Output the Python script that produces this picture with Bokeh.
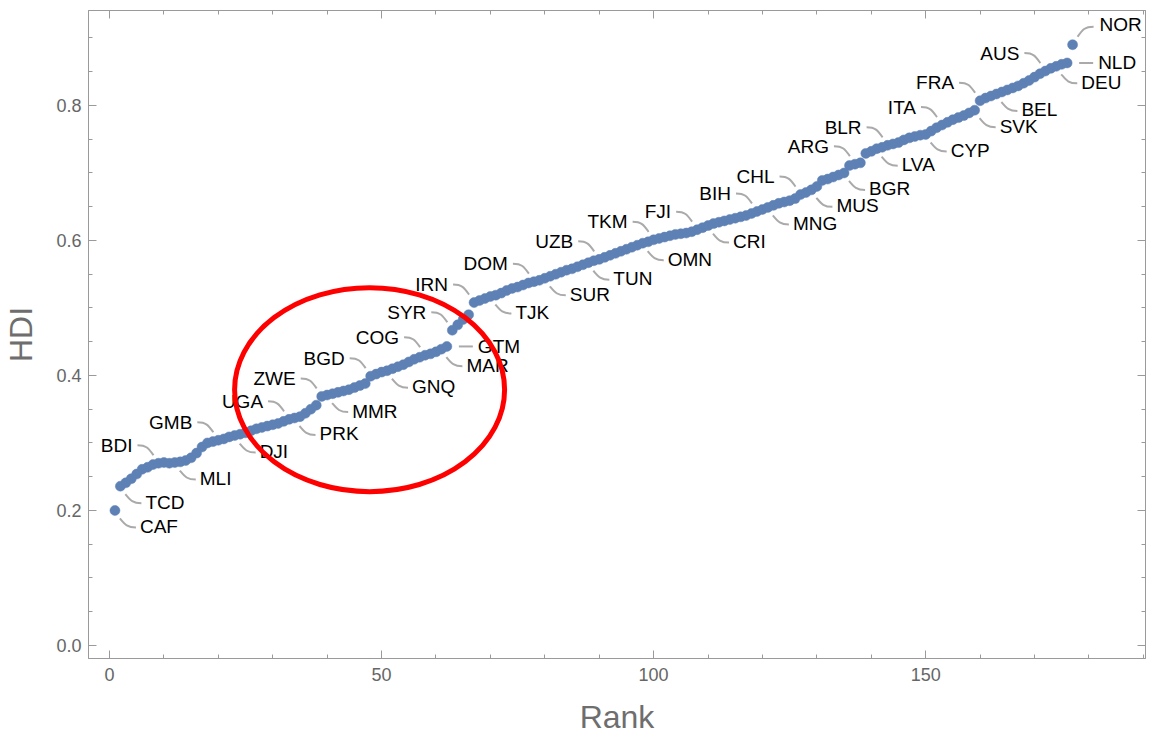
from bokeh.plotting import figure
from bokeh.models import (ColumnDataSource, LinearAxis, Range1d, FixedTicker,
                          PrintfTickFormatter, CustomJSTickFormatter)
from bokeh.core.properties import value
from bokeh.embed import file_html
from bokeh.resources import INLINE

# ---------------- data ----------------
hdi = [
    0.200, 0.236, 0.241, 0.247, 0.254, 0.261, 0.264, 0.268, 0.270, 0.271,
    0.270, 0.271, 0.272, 0.274, 0.278, 0.285, 0.294, 0.300, 0.302, 0.304,
    0.306, 0.309, 0.311, 0.313, 0.315, 0.318, 0.321, 0.323, 0.325, 0.327,
    0.329, 0.332, 0.335, 0.337, 0.339, 0.344, 0.350, 0.356, 0.369, 0.371,
    0.373, 0.375, 0.377, 0.379, 0.382, 0.385, 0.388, 0.399, 0.402, 0.405,
    0.407, 0.410, 0.413, 0.416, 0.420, 0.424, 0.427, 0.430, 0.432, 0.435,
    0.439, 0.443, 0.467, 0.475, 0.483, 0.490, 0.508, 0.511, 0.514, 0.517,
    0.519, 0.522, 0.526, 0.529, 0.531, 0.534, 0.537, 0.539, 0.541, 0.544,
    0.547, 0.550, 0.553, 0.556, 0.558, 0.561, 0.564, 0.567, 0.570, 0.572,
    0.575, 0.578, 0.581, 0.584, 0.587, 0.590, 0.593, 0.596, 0.598, 0.601,
    0.603, 0.605, 0.607, 0.609, 0.610, 0.611, 0.613, 0.616, 0.619, 0.622,
    0.625, 0.627, 0.629, 0.631, 0.633, 0.635, 0.637, 0.640, 0.643, 0.646,
    0.649, 0.652, 0.655, 0.657, 0.659, 0.662, 0.668, 0.671, 0.675, 0.680,
    0.689, 0.691, 0.694, 0.697, 0.700, 0.711, 0.713, 0.715, 0.729, 0.732,
    0.736, 0.738, 0.741, 0.743, 0.745, 0.749, 0.752, 0.754, 0.756, 0.757,
    0.762, 0.767, 0.771, 0.775, 0.779, 0.782, 0.785, 0.789, 0.793, 0.807,
    0.811, 0.814, 0.817, 0.820, 0.823, 0.826, 0.829, 0.833, 0.837, 0.842,
    0.847, 0.851, 0.855, 0.858, 0.861, 0.863, 0.890,
]
ranks = list(range(1, len(hdi) + 1))

label_names = ["CAF", "TCD", "BDI", "MLI", "GMB", "DJI", "UGA", "PRK", "ZWE", "MMR",
               "BGD", "GNQ", "COG", "MAR", "GTM", "SYR", "IRN", "TJK", "DOM", "SUR",
               "TUN", "UZB", "OMN", "TKM", "FJI", "CRI", "BIH", "MNG", "CHL", "MUS",
               "BGR", "ARG", "LVA", "BLR", "CYP", "ITA", "SVK", "FRA", "BEL", "AUS",
               "DEU", "NLD", "NOR"]
label_ranks = [1, 2, 9, 12, 20, 23, 33, 34, 39, 40,
               48, 51, 58, 61, 62, 63, 67, 70, 78, 80,
               88, 90, 98, 100, 108, 110, 119, 121, 127, 129,
               135, 137, 141, 143, 150, 153, 159, 160, 163, 172,
               174, 176, 177]
label_sides = ["lr", "lr", "ul", "lr", "ul", "lr", "ul", "lr", "ul", "lr",
               "ul", "lr", "ul", "lr", "r", "ul", "ul", "lr", "ul", "lr",
               "lr", "ul", "lr", "ul", "ul", "lr", "ul", "lr", "ul", "lr",
               "lr", "ul", "lr", "ul", "lr", "ul", "lr", "ul", "lr", "ul",
               "lr", "r", "ur"]

x_major_ticks = [0, 50, 100, 150]
x_minor_ticks = list(range(0, 191, 10))
y_major_ticks = [0.0, 0.2, 0.4, 0.6, 0.8]
y_minor_ticks = [round(i * 0.05, 2) for i in range(0, 19)]

# ---------------- layout constants ----------------
X0, X1 = -3.86, 190.4
Y0, Y1 = -0.0193, 0.9407
FW, FH = 1057, 648
kx = FW / (X1 - X0)
ky = FH / (Y1 - Y0)

BLUE = "#5E81B5"
FRAME = "#9a9a9a"
FONT = "Liberation Sans"

# screen-pixel offsets (y downwards) for callout leader and label text
GEOM = {
    "ul": dict(a=(-21, -18), c0=(-12, -18), c1=(-10, -15), b=(-5, -8), t=(-26, -18)),
    "lr": dict(a=(21, 17), c0=(12, 17), c1=(10, 14), b=(5, 8), t=(25, 16)),
    "ur": dict(a=(21, -18), c0=(12, -18), c1=(10, -15), b=(5, -8), t=(27, -20)),
    "r": dict(a=(26, 0), c0=(20, 0), c1=(18, 0), b=(12, 0), t=(31, 0)),
}

def off(x, y, o):
    return x + o[0] / kx, y - o[1] / ky

lead = dict(x0=[], y0=[], x1=[], y1=[], cx0=[], cy0=[], cx1=[], cy1=[])
txt_l = dict(x=[], y=[], t=[])
txt_r = dict(x=[], y=[], t=[])
for name, r, side in zip(label_names, label_ranks, label_sides):
    px, py = r, hdi[r - 1]
    g = GEOM[side]
    ax_, ay_ = off(px, py, g["a"])
    bx_, by_ = off(px, py, g["b"])
    c0x, c0y = off(px, py, g["c0"])
    c1x, c1y = off(px, py, g["c1"])
    lead["x0"].append(ax_); lead["y0"].append(ay_)
    lead["x1"].append(bx_); lead["y1"].append(by_)
    lead["cx0"].append(c0x); lead["cy0"].append(c0y)
    lead["cx1"].append(c1x); lead["cy1"].append(c1y)
    tx, ty = off(px, py, g["t"])
    d = txt_r if side == "ul" else txt_l
    d["x"].append(tx); d["y"].append(ty); d["t"].append(name)

# ---------------- figure ----------------
p = figure(frame_width=FW, frame_height=FH,
           x_range=Range1d(X0, X1), y_range=Range1d(Y0, Y1),
           output_backend="svg", toolbar_location=None,
           min_border_left=82, min_border_right=2, min_border_top=10,
           min_border_bottom=10)
p.xgrid.visible = False
p.ygrid.visible = False
p.outline_line_color = FRAME
p.background_fill_color = "white"

bottom_ax = p.xaxis[0]
left_ax = p.yaxis[0]
bottom_ax.ticker = FixedTicker(ticks=x_major_ticks, minor_ticks=x_minor_ticks)
left_ax.ticker = FixedTicker(ticks=y_major_ticks, minor_ticks=y_minor_ticks)
left_ax.formatter = PrintfTickFormatter(format="%.1f")
bottom_ax.axis_label = "Rank"
left_ax.axis_label = "HDI"

top_ax = LinearAxis(ticker=FixedTicker(ticks=x_major_ticks, minor_ticks=x_minor_ticks),
                    formatter=CustomJSTickFormatter(code="return '';"))
right_ax = LinearAxis(ticker=FixedTicker(ticks=y_major_ticks, minor_ticks=y_minor_ticks),
                      formatter=CustomJSTickFormatter(code="return '';"))
p.add_layout(top_ax, "above")
p.add_layout(right_ax, "right")

for ax in [bottom_ax, left_ax, top_ax, right_ax]:
    ax.axis_line_color = FRAME
    ax.major_tick_line_color = FRAME
    ax.minor_tick_line_color = FRAME
    ax.major_tick_in = 8
    ax.major_tick_out = 0
    ax.minor_tick_in = 4
    ax.minor_tick_out = 0
    ax.major_label_text_font = FONT
    ax.major_label_text_font_size = "18px"
    ax.major_label_text_color = "#666666"
    ax.axis_label_text_font = FONT
    ax.axis_label_text_font_size = "32px"
    ax.axis_label_text_font_style = "normal"
    ax.axis_label_text_color = "#6e6e6e"
for ax in [top_ax, right_ax]:
    ax.major_label_standoff = 0
bottom_ax.major_label_standoff = 9
left_ax.major_label_standoff = 7
bottom_ax.axis_label_standoff = 15
left_ax.axis_label_standoff = 14

# points
p.scatter(ranks, hdi, size=10, fill_color=BLUE, line_color=BLUE, line_width=0.5)

# callout leaders
p.bezier(x0="x0", y0="y0", x1="x1", y1="y1", cx0="cx0", cy0="cy0", cx1="cx1", cy1="cy1",
         source=ColumnDataSource(lead), line_color="#aaaaaa", line_width=2)

# labels
p.text(x="x", y="y", text="t", source=ColumnDataSource(txt_l), text_align="left",
       text_baseline="middle", text_font=value(FONT), text_font_size="19px",
       text_color="black")
p.text(x="x", y="y", text="t", source=ColumnDataSource(txt_r), text_align="right",
       text_baseline="middle", text_font=value(FONT), text_font_size="19px",
       text_color="black")

# red highlight ellipse
ELL_X, ELL_Y = 47.8, 0.379
p.ellipse(x=[ELL_X], y=[ELL_Y], width=[270], height=[204], width_units="screen",
          height_units="screen", fill_alpha=0, line_color="#ff0000", line_width=5)

open("out.html", "w").write(file_html(p, INLINE))
